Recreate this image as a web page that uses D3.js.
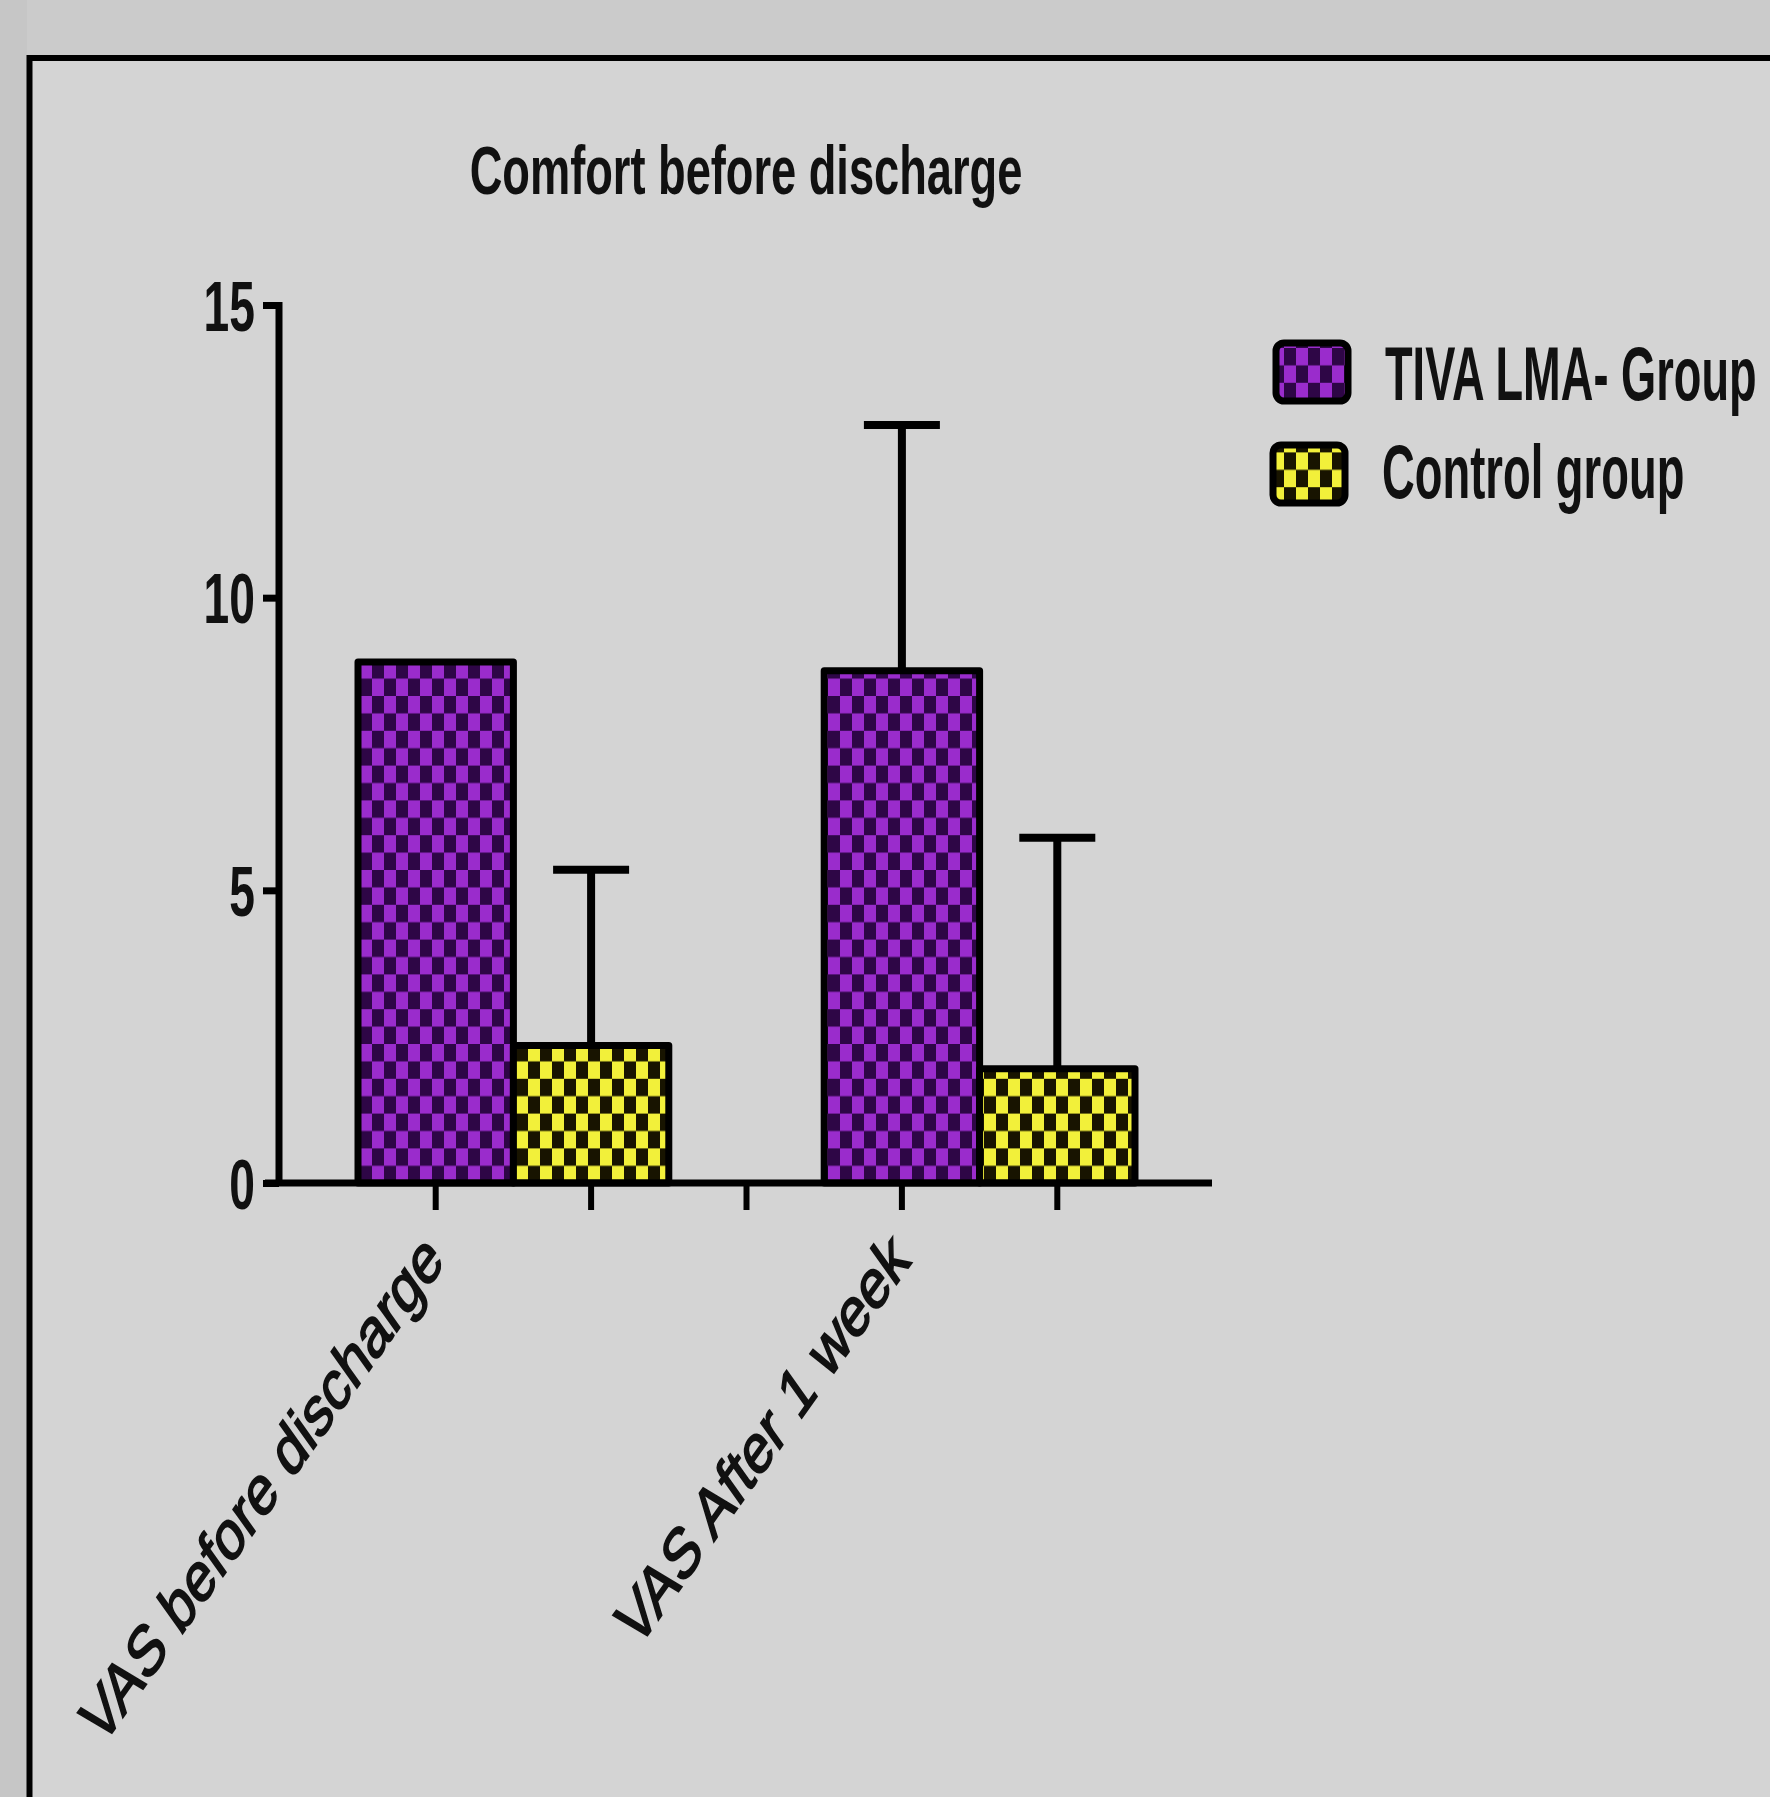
<!DOCTYPE html>
<html>
<head>
<meta charset="utf-8">
<script src="https://cdn.jsdelivr.net/npm/d3@7"></script>
<style>
  html, body { margin: 0; padding: 0; background: #cbcbcb; }
  svg { display: block; }
  text { font-family: "Liberation Sans", Arial, sans-serif; fill: #111; }
</style>
</head>
<body>
<svg id="chart" width="1770" height="1797"></svg>
<script>
// ---- data ----
const categories = ["VAS before discharge", "VAS After 1 week"];
const seriesNames = ["TIVA LMA- Group", "Control group"];
const tivaMeans = [8.9, 8.75];
const tivaSD = [null, 4.2];
const controlMeans = [2.35, 1.95];
const controlSD = [3.0, 3.95];
const yTicks = [0, 5, 10, 15];
const titleText = "Comfort before discharge";

// ---- layout ----
const W = 1770, H = 1797;
const plot = { left: 358, right: 1135, top: 305, bottom: 1183 };
const yAxisX = 279;
const axisStroke = 7;
const squeeze = 0.71; // horizontal compression of the rotated lettering

const svg = d3.select("#chart");

// patterns: checkerboard fills
const defs = svg.append("defs");
function checker(id, dark, light, cw, ch) {
  const p = defs.append("pattern")
    .attr("id", id).attr("patternUnits", "userSpaceOnUse")
    .attr("width", cw * 2).attr("height", ch * 2);
  p.append("rect").attr("width", cw * 2).attr("height", ch * 2).attr("fill", dark);
  p.append("rect").attr("x", 0).attr("y", 0).attr("width", cw).attr("height", ch).attr("fill", light);
  p.append("rect").attr("x", cw).attr("y", ch).attr("width", cw).attr("height", ch).attr("fill", light);
}
checker("purpleCheck", "#2e0646", "#9a2ccc", 12, 17.4);
checker("yellowCheck", "#181400", "#f2f03a", 12, 17.4);
const fills = ["url(#purpleCheck)", "url(#yellowCheck)"];

// panel frame
svg.append("rect").attr("x", 0).attr("y", 0).attr("width", W).attr("height", H).attr("fill", "#cbcbcb");
svg.append("rect").attr("x", 0).attr("y", 0).attr("width", 27).attr("height", H).attr("fill", "#c6c6c6");
svg.append("rect")
  .attr("x", 29.5).attr("y", 58).attr("width", W + 40).attr("height", H + 40)
  .attr("fill", "#d4d4d4").attr("stroke", "#000").attr("stroke-width", 6);

// slots: one per bar, with an empty slot between the two groups
const slots = [];
categories.forEach((c, i) => {
  if (i > 0) slots.push({ key: "gap" + i, gap: true });
  seriesNames.forEach((s, j) => slots.push({
    key: c + "|" + s, cat: i, ser: j,
    mean: j === 0 ? tivaMeans[i] : controlMeans[i],
    sd: j === 0 ? tivaSD[i] : controlSD[i]
  }));
});

const x = d3.scaleBand().domain(slots.map(d => d.key)).range([plot.left, plot.right]).padding(0);
const y = d3.scaleLinear().domain([0, 15]).range([plot.bottom, plot.top]);

// title (condensed lettering)
svg.append("text")
  .attr("transform", "translate(746,194) scale(0.665,1)")
  .attr("text-anchor", "middle")
  .attr("font-size", 68).attr("font-weight", "bold")
  .text(titleText);

// bars
const bars = slots.filter(d => !d.gap);

// error bars (upper only), drawn behind the bars
const capHalf = 38;
const eb = svg.append("g").attr("stroke", "#000").attr("stroke-width", 8).attr("fill", "none");
bars.filter(d => d.sd != null).forEach(d => {
  const cx = x(d.key) + x.bandwidth() / 2;
  eb.append("line").attr("x1", cx).attr("x2", cx).attr("y1", y(d.mean)).attr("y2", y(d.mean + d.sd));
  eb.append("line").attr("x1", cx - capHalf).attr("x2", cx + capHalf)
    .attr("y1", y(d.mean + d.sd)).attr("y2", y(d.mean + d.sd));
});

svg.append("g").selectAll("rect").data(bars).join("rect")
  .attr("x", d => x(d.key))
  .attr("y", d => y(d.mean))
  .attr("width", x.bandwidth())
  .attr("height", d => y(0) - y(d.mean))
  .attr("fill", d => fills[d.ser])
  .attr("stroke", "#000").attr("stroke-width", 7).attr("stroke-linejoin", "round");

// y axis
const yAxis = svg.append("g").attr("transform", `translate(${yAxisX},0)`)
  .call(d3.axisLeft(y).tickValues(yTicks).tickSize(16).tickSizeOuter(0).tickFormat(d3.format("d")));
yAxis.select(".domain").attr("stroke-width", axisStroke).attr("d", `M0,${y(15) - 3}V${y(0) + 3}`);
yAxis.selectAll(".tick line").attr("stroke-width", axisStroke);
yAxis.selectAll(".tick text")
  .attr("font-size", 70).attr("font-weight", "bold")
  .attr("font-family", "Liberation Sans, Arial, sans-serif")
  .attr("fill", "#111")
  .attr("x", -24 / 0.66).attr("dy", "0.36em")
  .attr("transform", "scale(0.66,1)");

// x axis
const xAxis = svg.append("g").attr("transform", `translate(0,${y(0)})`)
  .call(d3.axisBottom(x).tickSize(27).tickSizeOuter(0).tickFormat(""));
xAxis.select(".domain").attr("stroke-width", axisStroke)
  .attr("d", `M${yAxisX - 14},0H1212`);
xAxis.selectAll(".tick line").attr("stroke-width", 6);

// rotated category labels, under the first bar of each group
svg.append("g").selectAll("text").data(categories).join("text")
  .attr("transform", (c, i) => {
    const cx = x(c + "|" + seriesNames[0]) + x.bandwidth() / 2;
    return `translate(${cx + 10},${y(0) + 80}) scale(${squeeze},1) rotate(-45)`;
  })
  .attr("text-anchor", "end")
  .attr("font-size", 71)
  .attr("stroke", "#111").attr("stroke-width", 2)
  .text(d => d);

// legend
const legend = svg.append("g");
const legendRows = [
  { name: seriesNames[0], fill: fills[0], sx: 1276, sy: 343, tx: 1385, ty: 400, k: 0.595 },
  { name: seriesNames[1], fill: fills[1], sx: 1273, sy: 445, tx: 1382, ty: 498, k: 0.597 }
];
legendRows.forEach(r => {
  legend.append("rect").attr("x", r.sx).attr("y", r.sy).attr("width", 72).attr("height", 58)
    .attr("rx", 8).attr("fill", r.fill).attr("stroke", "#000").attr("stroke-width", 7);
  legend.append("text")
    .attr("transform", `translate(${r.tx},${r.ty}) scale(${r.k},1)`)
    .attr("font-size", 76).attr("font-weight", "bold")
    .text(r.name);
});
</script>
</body>
</html>
